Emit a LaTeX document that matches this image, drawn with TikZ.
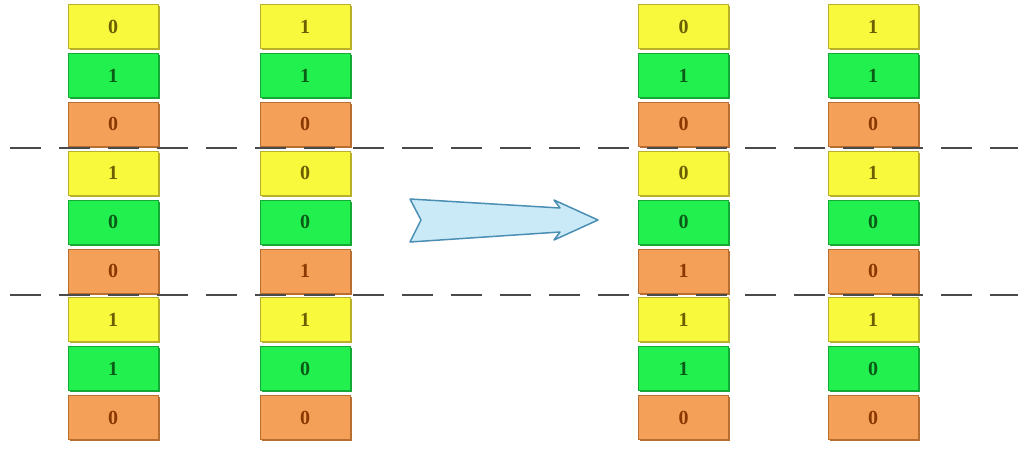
\documentclass[tikz,border=0pt]{standalone}
\usepackage{fontspec}
\setmainfont{Liberation Serif}
\usepackage{tikz}
\usetikzlibrary{shadows}
\definecolor{F0}{HTML}{F8F83C}
\definecolor{F1}{HTML}{22F04E}
\definecolor{F2}{HTML}{F4A058}
\definecolor{D0}{HTML}{B8B028}
\definecolor{D1}{HTML}{14A834}
\definecolor{D2}{HTML}{B86E30}
\definecolor{T0}{HTML}{6A5E00}
\definecolor{T1}{HTML}{0A5A18}
\definecolor{T2}{HTML}{8A3800}
\definecolor{arrowfill}{HTML}{CBEAF7}
\definecolor{arrowline}{HTML}{4A8EB4}
\definecolor{dashgray}{HTML}{4A4A4A}
\tikzset{
  cell/.style={rectangle, minimum width=90pt, minimum height=44pt, inner sep=0pt,
    fill=F#1, draw=D#1, line width=1pt, text=T#1,
    drop shadow={shadow xshift=1.5pt, shadow yshift=-1.5pt, fill=D#1, opacity=1},
    font=\bfseries\fontsize{20}{20}\selectfont},
  dashline/.style={draw=dashgray, line width=2.5pt, dash pattern=on 31pt off 18pt},
  bigarrow/.style={fill=arrowfill, draw=arrowline, line width=1.5pt, line join=round}
}
\begin{document}
\begin{tikzpicture}[x=1pt,y=-1pt]
\useasboundingbox (0,0) rectangle (1025,458);
\foreach \cx/\vals [count=\c] in {113/{0,1,0,1,0,0,1,1,0}, 305/{1,1,0,0,0,1,1,0,0}, 683.5/{0,1,0,0,0,1,1,1,0}, 873/{1,1,0,1,0,0,1,0,0}} {
  \foreach \v [count=\r from 0] in \vals {
    \pgfmathtruncatemacro\k{mod(\r,3)}
    \node[cell=\k] (c\c-\r) at (\cx, {26.5+48.9*\r}) {\v};
  }
}
\coordinate (l1a) at (10,148);
\coordinate (l1b) at (1018,148);
\coordinate (l2a) at (10,295);
\coordinate (l2b) at (1018,295);
\draw[dashline] (l1a) -- (l1b);
\draw[dashline] (l2a) -- (l2b);
\draw[bigarrow] (410,199) -- (560,208) -- (554,200) -- (598,220) -- (554,240) -- (560,232) -- (410,242) -- (421,220) -- cycle;
\end{tikzpicture}
\end{document}
